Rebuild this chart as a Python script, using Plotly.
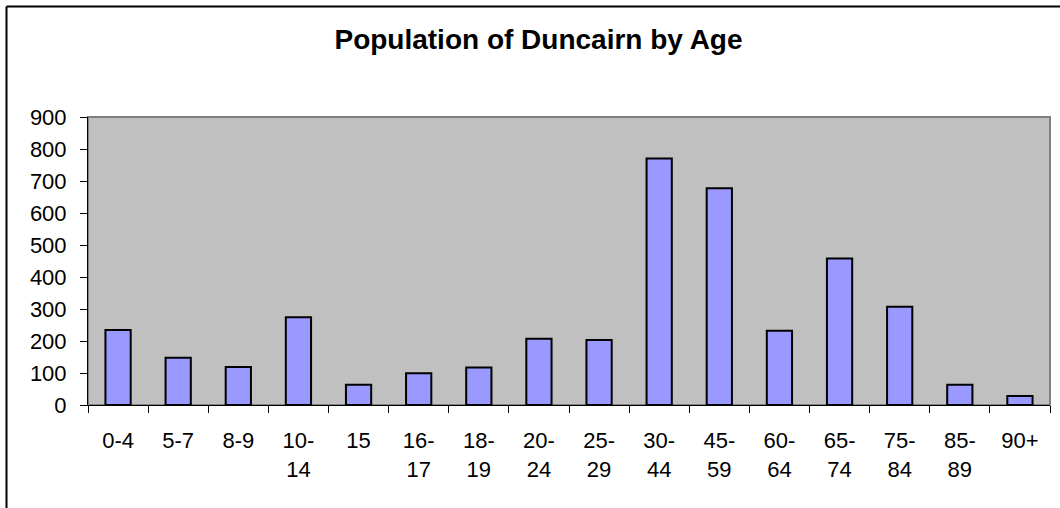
import plotly.graph_objects as go

# Data:
age_groups = ["0-4", "5-7", "8-9", "10-14", "15", "16-17", "18-19", "20-24",
              "25-29", "30-44", "45-59", "60-64", "65-74", "75-84", "85-89", "90+"]
tick_labels = ["0-4", "5-7", "8-9", "10-<br>14", "15", "16-<br>17", "18-<br>19", "20-<br>24",
               "25-<br>29", "30-<br>44", "45-<br>59", "60-<br>64", "65-<br>74", "75-<br>84",
               "85-<br>89", "90+"]
population = [234, 148, 119, 274, 63, 99, 117, 207,
              203, 770, 677, 232, 458, 307, 63, 28]
y_ticks = [0, 100, 200, 300, 400, 500, 600, 700, 800, 900]

# Layout in pixels:
W, H = 1060, 508
m_l, m_r, m_t, m_b = 88, 10, 117, 103
pw = W - m_l - m_r
ph = H - m_t - m_b

font_main = "Liberation Sans, Arial, sans-serif"

fig = go.Figure(
    data = [
        go.Bar(
            x = age_groups,
            y = population,
            marker = {
                "color": "#9999FF",
                "line": {"color": "black", "width": 2}
            },
            showlegend = False
        )
    ]
)

# Outer chart border (left and top)
bx = (6.5 - m_l) / pw
by = (H - m_b - 6.5) / ph
fig.add_shape(type = "line", xref = "paper", yref = "paper",
              x0 = bx, x1 = bx, y0 = by, y1 = -0.5,
              line = {"color": "black", "width": 2})
fig.add_shape(type = "line", xref = "paper", yref = "paper",
              x0 = bx, x1 = 1.2, y0 = by, y1 = by,
              line = {"color": "black", "width": 2})
# Plot area border
fig.add_shape(type = "rect", xref = "paper", yref = "paper",
              x0 = 0, x1 = 1, y0 = 0, y1 = 1,
              line = {"color": "#808080", "width": 2},
              layer = "below")

fig.update_layout(
    width = W,
    height = H,
    margin = dict(l = m_l, r = m_r, t = m_t, b = m_b),
    paper_bgcolor = "white",
    plot_bgcolor = "#C0C0C0",
    bargap = 0.58,
    font = dict(family = font_main, size = 22, color = "black"),
    title = dict(
        text = "<b>Population of Duncairn by Age</b>",
        font = dict(family = font_main, size = 28, color = "black"),
        x = 538.5 / W,
        xanchor = "center",
        xref = "container",
        y = 1 - 39 / H,
        yanchor = "middle",
        yref = "container"
    ),
    xaxis = dict(
        type = "category",
        tickmode = "array",
        tickvals = age_groups,
        ticktext = tick_labels,
        tickson = "boundaries",
        ticks = "outside",
        ticklen = 7,
        tickcolor = "black",
        showline = True,
        linecolor = "black",
        linewidth = 1,
        showgrid = False,
        ticklabelstandoff = 16
    ),
    yaxis = dict(
        range = [0, 900],
        tickmode = "array",
        tickvals = y_ticks,
        ticks = "outside",
        ticklen = 7,
        tickcolor = "black",
        showline = True,
        linecolor = "black",
        linewidth = 1,
        showgrid = False,
        zeroline = False,
        ticklabelstandoff = 9
    )
)

fig.write_html("out.html",
               config = {"displayModeBar": False},
               post_script = "document.body.style.margin = '0';")
